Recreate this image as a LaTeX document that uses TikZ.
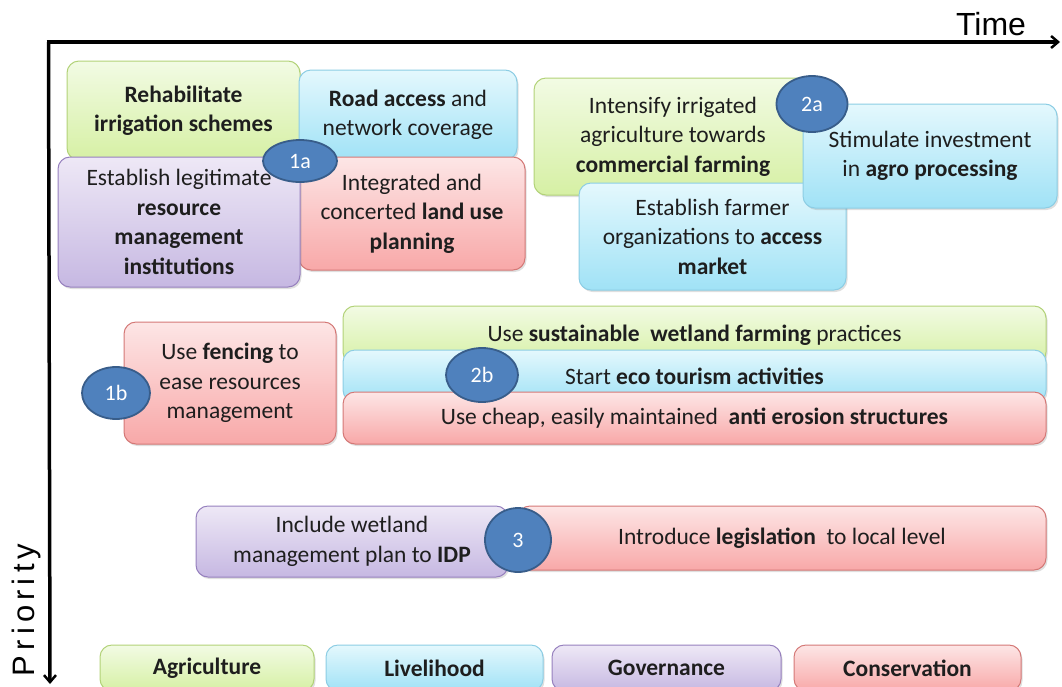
\documentclass[tikz,border=0pt]{standalone}
\usepackage{fontspec}
\setmainfont{Carlito}
\newfontfamily\axisfont{Liberation Sans}
\usetikzlibrary{shapes.geometric,shadows,arrows.meta}

\definecolor{agtop}{RGB}{242,251,228}
\definecolor{agbot}{RGB}{214,240,164}
\definecolor{agline}{RGB}{178,210,120}
\definecolor{lvtop}{RGB}{228,248,253}
\definecolor{lvbot}{RGB}{160,226,246}
\definecolor{lvline}{RGB}{140,205,228}
\definecolor{gvtop}{RGB}{238,232,246}
\definecolor{gvbot}{RGB}{198,184,226}
\definecolor{gvline}{RGB}{150,128,190}
\definecolor{cstop}{RGB}{253,230,230}
\definecolor{csbot}{RGB}{248,168,168}
\definecolor{csline}{RGB}{212,120,118}
\definecolor{badgefill}{RGB}{79,129,189}
\definecolor{badgeline}{RGB}{56,93,138}
\definecolor{inktext}{RGB}{30,30,30}

\tikzset{
  card/.style={rounded corners=12pt, line width=1pt, align=center,
    text=inktext, font=\fontsize{23.5}{29.5}\selectfont, inner sep=2pt,
    drop shadow={opacity=0.25, shadow xshift=1.5pt, shadow yshift=-2pt}},
  agri/.style={card, draw=agline, top color=agtop, bottom color=agbot},
  live/.style={card, draw=lvline, top color=lvtop, bottom color=lvbot},
  gov/.style={card, draw=gvline, top color=gvtop, bottom color=gvbot},
  cons/.style={card, draw=csline, top color=cstop, bottom color=csbot},
  badge/.style={ellipse, inner sep=0pt, fill=badgefill, draw=badgeline,
    line width=1.8pt, text=white, font=\fontsize{22}{26}\selectfont},
  axis/.style={line width=3.5pt, -{Straight Barb[length=7pt,width=12pt,line width=2.5pt]}},
}

\begin{document}
\begin{tikzpicture}[x=1pt,y=-1pt]
\useasboundingbox (0,0) rectangle (1062,686);

% axes
\coordinate (origin) at (48.5,42);
\coordinate (tEnd) at (1060,42);
\coordinate (pEnd) at (50,684);
\draw[axis] (46.5,42) -- (tEnd);
\draw[axis] (origin) -- (pEnd);
\node[font=\axisfont\fontsize{32}{36}\selectfont, anchor=south] (timelbl) at (991,39) {Time};
\node[font=\axisfont\fontsize{31}{36}\selectfont, rotate=90, anchor=south] (prilbl) at (44,610) {P\,r\,i\,o\,r\,i\,t\,y};

% group 1a
\node[agri, minimum width=233pt, minimum height=99pt] (rehab) at (183.5,110.5)
  {\textbf{Rehabilitate}\\\textbf{irrigation schemes}};
\node[live, minimum width=218pt, minimum height=90pt] (road) at (408,115)
  {\textbf{Road access} and\\network coverage};
\node[cons, minimum width=226pt, minimum height=113pt] (landuse) at (412,213.5)
  {Integrated and\\concerted \textbf{land use}\\\textbf{planning}};
\node[gov, minimum width=242pt, minimum height=130pt] (inst) at (179,222)
  {Establish legitimate\\\textbf{resource}\\\textbf{management}\\\textbf{institutions}};
\node[badge, minimum width=74pt, minimum height=42pt] (b1a) at (300,161) {1a};

% group 2a
\node[agri, minimum width=278pt, minimum height=117pt] (intens) at (673,136.5)
  {Intensify irrigated\\agriculture towards\\\textbf{commercial farming}};
\node[live, minimum width=267pt, minimum height=107pt] (farmer) at (712.5,236.5)
  {Establish farmer\\organizations to \textbf{access}\\\textbf{market}};
\node[live, minimum width=254pt, minimum height=104pt] (agro) at (930,156)
  {Stimulate investment\\in \textbf{agro processing}};
\node[badge, minimum width=71pt, minimum height=56pt] (b2a) at (812,104) {2a};

% group 1b
\node[cons, minimum width=212pt, minimum height=122pt] (fence) at (230,383)
  {Use \textbf{fencing} to\\ease resources\\management};
\node[badge, minimum width=68pt, minimum height=52pt] (b1b) at (116,393) {1b};

% group 2b
\node[agri, minimum width=703pt, minimum height=58pt] (wetfarm) at (694.5,335)
  {Use \textbf{sustainable\ \ wetland farming} practices};
\node[live, minimum width=703pt, minimum height=52pt] (eco) at (694.5,376)
  {Start \textbf{eco tourism activities}};
\node[cons, minimum width=703pt, minimum height=52pt] (erosion) at (694.5,418)
  {Use cheap, easily maintained\ \ \textbf{anti erosion structures}};
\node[badge, minimum width=72pt, minimum height=54pt] (b2b) at (482,375) {2b};

% group 3
\node[gov, minimum width=312pt, minimum height=71pt] (idp) at (352,541.5)
  {Include wetland\\management\ plan to \textbf{IDP}};
\node[cons, minimum width=528pt, minimum height=64pt] (legis) at (782,538)
  {Introduce \textbf{legislation}\ \ to local level};
\node[badge, minimum width=66pt, minimum height=64pt] (b3) at (518,540) {3};

% legend
\node[agri, minimum width=214pt, minimum height=46pt] (lagri) at (207,668)
  {\textbf{Agriculture}};
\node[live, minimum width=217pt, minimum height=46pt] (llive) at (434.5,668)
  {\textbf{Livelihood}};
\node[gov, minimum width=229pt, minimum height=46pt] (lgov) at (666.5,668)
  {\textbf{Governance}};
\node[cons, minimum width=227pt, minimum height=46pt] (lcons) at (907.5,668)
  {\textbf{Conservation}};
\end{tikzpicture}
\end{document}
